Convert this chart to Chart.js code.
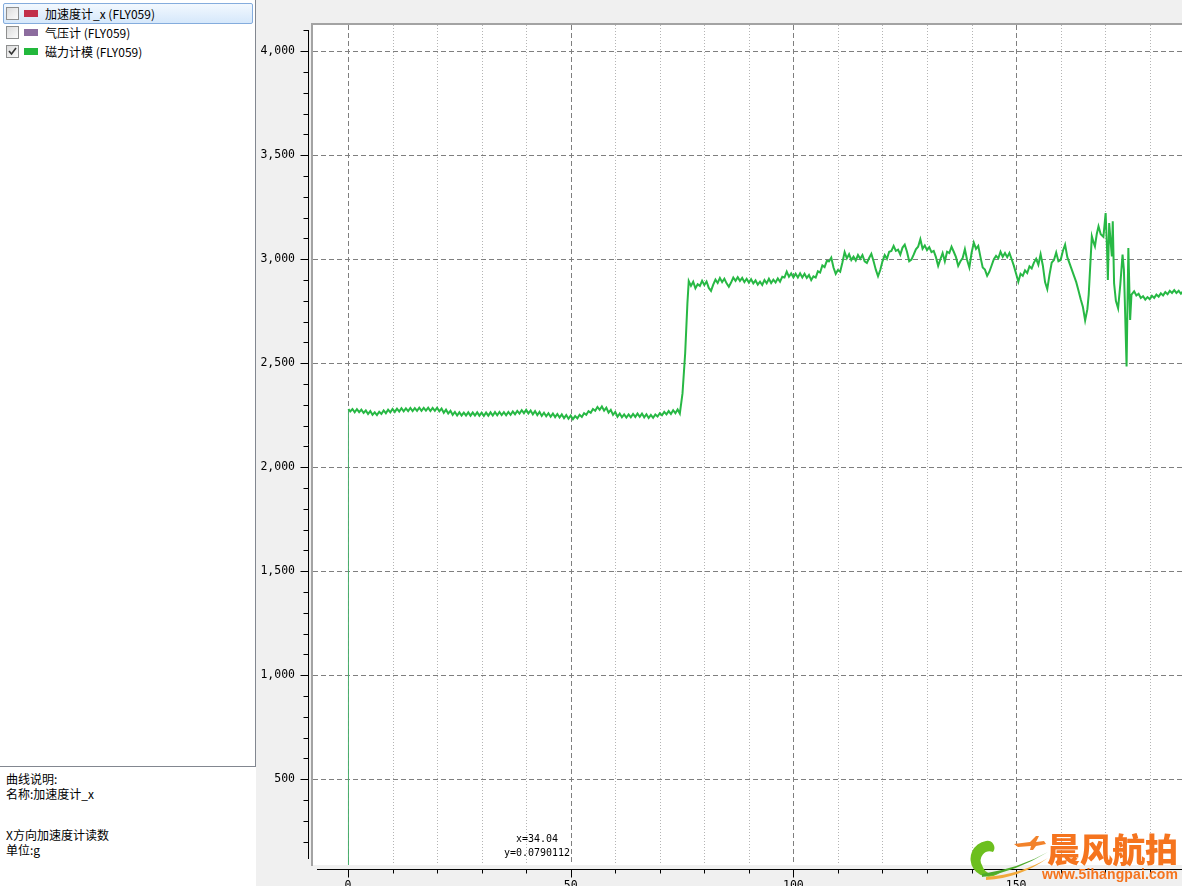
<!DOCTYPE html>
<html>
<head>
<meta charset="utf-8">
<title>磁力计模 (FLY059)</title>
<script src="https://cdn.jsdelivr.net/npm/chart.js@4.4.1/dist/chart.umd.min.js"></script>
<style>
html, body { margin: 0; padding: 0; }
body { width: 1182px; height: 886px; overflow: hidden; background: #f0f0f0; position: relative;
       font-family: "Noto Sans CJK SC", "Noto Sans", sans-serif; }
#side { position: absolute; left: 0; top: 0; width: 256px; height: 886px; background: #fff; }
#list { position: absolute; left: 0; top: 0; width: 255px; height: 766px;
        border-right: 1px solid #828790; border-bottom: 1px solid #828790; }
#sel { position: absolute; left: 3px; top: 3px; width: 248px; height: 19px; border: 1px solid #84acdd;
       border-radius: 2px; background: linear-gradient(#f2f8fe, #d6e8fb); }
.item { position: absolute; left: 3px; width: 250px; height: 19px; font-size: 12px; line-height: 19px; color: #000; }
.cb { position: absolute; left: 3px; top: 3px; width: 11px; height: 11px; border: 1px solid #8e8f8f;
      background: linear-gradient(135deg, #dcdcdc, #fbfbfb); }
.cb svg { position: absolute; left: 0; top: 0; }
.sw { position: absolute; left: 21px; top: 6px; width: 14px; height: 7px; }
.lbl { position: absolute; left: 42px; top: 0; white-space: nowrap; }
.desc { position: absolute; left: 6px; font-size: 12px; line-height: 15px; color: #000; white-space: nowrap; }
#plot { position: absolute; left: 256px; top: 0; }
#marker { position: absolute; left: 487px; top: 832px; width: 100px; text-align: center;
          font-family: "DejaVu Sans Mono", monospace; font-size: 10px; line-height: 14px; color: #000; }
#logo { position: absolute; left: 960px; top: 828px; }
</style>
</head>
<body>
<div id="side">
  <div id="list"><div id="sel"></div></div>
  <div class="desc" style="top:771px">曲线说明:<br>名称:加速度计_x</div>
  <div class="desc" style="top:827px">X方向加速度计读数<br>单位:g</div>
</div>
<canvas id="plot" width="974" height="900"></canvas>
<div id="marker">x=34.04<br>y=0.0790112</div>
<svg id="logo" width="222" height="58" viewBox="0 0 222 58">
  <path d="M26 13 A18 18 0 1 0 44 40 A12 12 0 0 1 22 37 A9 9 0 0 1 33 24 A7 7 0 0 0 26 13 Z" fill="#6cbf1e"/>
  <path d="M22 49 Q55 44 88 24 Q60 40 22 46 Z" fill="#4daa2a"/>
  <path d="M26 52 Q60 50 88 30 Q62 46 26 49 Z" fill="#f2a93b"/>
  <path d="M54 16 L70 14 L76 8 L79 8 L76 14 L84 13 L86 16 L76 18 L73 22 L70 22 L71 18 L58 19 Z" fill="#f2822a"/>
  <text x="87" y="34" font-family="Noto Sans CJK SC" font-weight="900" font-size="33" fill="#f5741e" textLength="131">晨风航拍</text>
  <text x="82" y="51" font-family="Liberation Sans, sans-serif" font-weight="bold" font-size="14" fill="#f5741e" textLength="136">www.5ihangpai.com</text>
</svg>
<script>
// legend entries of the curve list
const seriesNames = ['加速度计_x (FLY059)', '气压计 (FLY059)', '磁力计模 (FLY059)'];
const seriesColors = ['#c2304b', '#8c6c9e', '#22b83c'];
const seriesChecked = [false, false, true];

// tick labels
const xTickValues = [0, 50, 100, 150];
const yTickValues = [500, 1000, 1500, 2000, 2500, 3000, 3500, 4000];
const xMinorStep = 10;
const yMinorStep = 100;

// 磁力计模 (FLY059): time and magnitude
const timeSec = [
    0, 0.1, 0.5, 1, 1.5, 2, 2.5, 3, 3.5, 4,
    4.5, 5, 5.5, 6, 6.5, 7, 7.5, 8, 8.5, 9,
    9.5, 10, 10.5, 11, 11.5, 12, 12.5, 13, 13.5, 14,
    14.5, 15, 15.5, 16, 16.5, 17, 17.5, 18, 18.5, 19,
    19.5, 20, 20.5, 21, 21.5, 22, 22.5, 23, 23.5, 24,
    24.5, 25, 25.5, 26, 26.5, 27, 27.5, 28, 28.5, 29,
    29.5, 30, 30.5, 31, 31.5, 32, 32.5, 33, 33.5, 34,
    34.5, 35, 35.5, 36, 36.5, 37, 37.5, 38, 38.5, 39,
    39.5, 40, 40.5, 41, 41.5, 42, 42.5, 43, 43.5, 44,
    44.5, 45, 45.5, 46, 46.5, 47, 47.5, 48, 48.5, 49,
    49.5, 50, 50.5, 51, 51.5, 52, 52.5, 53, 53.5, 54,
    54.5, 55, 55.5, 56, 56.5, 57, 57.5, 58, 58.5, 59,
    59.5, 60, 60.5, 61, 61.5, 62, 62.5, 63, 63.5, 64,
    64.5, 65, 65.5, 66, 66.5, 67, 67.5, 68, 68.5, 69,
    69.5, 70, 70.5, 71, 71.5, 72, 72.5, 73, 73.5, 74,
    74.5, 75.1, 75.7, 76.2, 76.5, 77, 77.5, 78, 78.5, 79,
    79.5, 80, 80.5, 81, 81.5, 82, 82.5, 83, 83.5, 84,
    84.5, 85, 85.5, 86, 86.5, 87, 87.5, 88, 88.5, 89,
    89.5, 90, 90.5, 91, 91.5, 92, 92.5, 93, 93.5, 94,
    94.5, 95, 95.5, 96, 96.5, 97, 97.5, 98, 98.5, 99,
    99.5, 100, 100.5, 101, 101.5, 102, 102.5, 103, 103.5, 104,
    104.5, 105, 105.5, 106, 106.5, 107, 107.5, 108, 108.5, 109,
    109.5, 110, 110.5, 111, 111.5, 112, 112.5, 113, 113.5, 114,
    114.5, 115, 115.5, 116, 116.5, 117, 117.5, 118, 118.5, 119,
    119.5, 120, 120.5, 121, 121.5, 122, 122.5, 123, 123.5, 124,
    124.5, 125, 125.5, 126, 126.5, 127, 127.5, 128, 128.5, 129,
    129.5, 130, 130.5, 131, 131.5, 132, 132.5, 133, 133.5, 134,
    134.5, 135, 135.5, 136, 136.5, 137, 137.5, 138, 138.5, 139,
    139.5, 140, 140.5, 141, 141.5, 142, 142.5, 143, 143.5, 144,
    144.5, 145, 145.5, 146, 146.5, 147, 147.5, 148, 148.5, 149,
    149.5, 150, 150.5, 151, 151.5, 152, 152.5, 153, 153.5, 154,
    154.5, 155, 155.5, 156, 156.5, 157, 157.5, 158, 158.5, 159,
    159.5, 160, 160.5, 161, 161.5, 162, 162.5, 163, 163.5, 164,
    164.5, 165, 165.5, 166, 166.3, 166.6, 167, 167.4, 167.7, 168.1,
    168.5, 169, 169.6, 170.1, 170.4, 170.6, 170.9, 171.2, 171.5, 171.7,
    172, 172.4, 172.9, 173.4, 173.9, 174.2, 174.4, 174.8, 175.2, 175.6,
    175.9, 176.5, 177, 177.5, 178, 178.5, 179, 179.5, 180, 180.5,
    181, 181.5, 182, 182.5, 183, 183.5, 184, 184.5, 185, 185.5,
    186, 186.5, 187, 187.5, 188
];
const magNorm = [
    80, 2280, 2268, 2280, 2264, 2279, 2265, 2277, 2261, 2273,
    2256, 2270, 2252, 2264, 2251, 2267, 2256, 2273, 2260, 2277,
    2264, 2280, 2266, 2282, 2268, 2284, 2269, 2283, 2270, 2285,
    2270, 2284, 2271, 2286, 2271, 2285, 2272, 2286, 2270, 2285,
    2271, 2286, 2269, 2282, 2262, 2277, 2258, 2271, 2252, 2266,
    2249, 2264, 2249, 2263, 2249, 2264, 2248, 2263, 2249, 2264,
    2248, 2262, 2247, 2263, 2248, 2264, 2249, 2265, 2250, 2266,
    2251, 2265, 2250, 2266, 2252, 2268, 2255, 2271, 2258, 2274,
    2260, 2276, 2259, 2273, 2254, 2270, 2251, 2266, 2247, 2262,
    2245, 2260, 2243, 2258, 2241, 2256, 2239, 2254, 2236, 2251,
    2233, 2248, 2231, 2246, 2235, 2252, 2242, 2260, 2252, 2270,
    2262, 2280, 2272, 2290, 2276, 2292, 2272, 2286, 2263, 2276,
    2252, 2266, 2243, 2258, 2240, 2254, 2239, 2254, 2240, 2256,
    2242, 2258, 2243, 2258, 2240, 2255, 2237, 2252, 2238, 2254,
    2244, 2260, 2250, 2266, 2254, 2270, 2256, 2274, 2260, 2278,
    2258, 2355, 2548, 2788, 2895, 2872, 2892, 2860, 2880, 2872,
    2896, 2876, 2893, 2862, 2848, 2878, 2902, 2886, 2910, 2890,
    2906, 2884, 2868, 2888, 2912, 2896, 2914, 2896, 2910, 2890,
    2906, 2888, 2904, 2884, 2898, 2878, 2892, 2876, 2900, 2884,
    2906, 2886, 2902, 2888, 2908, 2892, 2916, 2912, 2940, 2916,
    2932, 2912, 2930, 2912, 2932, 2912, 2930, 2910, 2924, 2900,
    2918, 2912, 2942, 2936, 2970, 2962, 2992, 2990, 3008, 2960,
    2930, 2948, 2940, 2984, 3034, 3004, 3024, 2996, 3012, 2994,
    3020, 3002, 3020, 2990, 2982, 3006, 3026, 2990, 2950, 2918,
    2948, 2990, 3020, 3002, 3036, 3040, 3064, 3040, 3046, 3022,
    3056, 3070, 3036, 2990, 2998, 3022, 3048, 3060, 3096, 3050,
    3066, 3044, 3058, 3034, 3040, 3010, 2968, 3000, 3030, 2990,
    3036, 3030, 3060, 3036, 3010, 2968, 2990, 3006, 3048, 2996,
    2960, 3030, 3080, 3050, 3064, 3010, 2960, 2950, 2920, 2940,
    2970, 3000, 3016, 3004, 3036, 3012, 3030, 3010, 3030, 3000,
    2968, 2930, 2892, 2930, 2920, 2946, 2934, 2966, 2956, 2984,
    3002, 2974, 3024, 2970, 2890, 2856, 2926, 2984, 2996, 3032,
    2990, 2996, 3040, 3070, 3010, 2980, 2950, 2920, 2890, 2850,
    2808, 2770, 2706, 2760, 2830, 2950, 3110, 3080, 3062, 3120,
    3158, 3120, 3108, 3222, 3060, 2900, 3174, 3090, 3014, 3182,
    2884, 2800, 2764, 2880, 3022, 2950, 2804, 2484, 3054, 2708,
    2830, 2846, 2826, 2834, 2814, 2822, 2806, 2818, 2808, 2824,
    2814, 2830, 2820, 2836, 2826, 2842, 2832, 2848, 2838, 2852,
    2838, 2848, 2834, 2846, 2836
];

// curve list on the left
const list = document.getElementById('list');
seriesNames.forEach((name, i) => {
    const row = document.createElement('div');
    row.className = 'item';
    row.style.top = (4 + 19 * i) + 'px';
    const tick = seriesChecked[i]
        ? '<svg width="11" height="11"><polyline points="2,5 4.5,8 9,2" fill="none" stroke="#333" stroke-width="1.6"/></svg>'
        : '';
    row.innerHTML = '<span class="cb">' + tick + '</span>' +
        '<span class="sw" style="background:' + seriesColors[i] + '"></span>' +
        '<span class="lbl">' + name + '</span>';
    list.appendChild(row);
});

// grid, frame and detached axis backbones in the Qwt style
const plotFrame = {
    id: 'plotFrame',
    beforeDraw(chart) {
        const { ctx, chartArea: a } = chart;
        ctx.save();
        ctx.fillStyle = '#fff';
        ctx.fillRect(a.left, a.top, a.right - a.left, a.bottom - a.top);
        ctx.restore();
    },
    beforeDatasetsDraw(chart) {
        const { ctx, chartArea: a, scales: { x, y } } = chart;
        const hline = (p) => { ctx.beginPath(); ctx.moveTo(a.left, p); ctx.lineTo(a.right, p); ctx.stroke(); };
        const vline = (p) => { ctx.beginPath(); ctx.moveTo(p, a.top); ctx.lineTo(p, a.bottom); ctx.stroke(); };
        ctx.save();
        ctx.lineWidth = 1;

        // minor vertical dotted lines
        ctx.strokeStyle = '#b4b4b4';
        ctx.setLineDash([1, 2]);
        for (let v = xMinorStep; v < x.max; v += xMinorStep) {
            if (xTickValues.includes(v)) continue;
            vline(Math.round(x.getPixelForValue(v)) + 0.5);
        }

        // major dashed lines
        ctx.strokeStyle = '#7f7f7f';
        ctx.setLineDash([5, 3]);
        xTickValues.forEach(v => vline(Math.round(x.getPixelForValue(v)) + 0.5));
        yTickValues.forEach(v => hline(Math.round(y.getPixelForValue(v)) + 0.5));
        ctx.restore();
    },
    afterDatasetsDraw(chart) {
        const { ctx, chartArea: a, scales: { x, y } } = chart;
        ctx.save();

        // gray canvas frame (top and left)
        ctx.fillStyle = '#a3a3a3';
        ctx.fillRect(a.left - 2, a.top - 2, a.right - a.left + 2, 2);
        ctx.fillRect(a.left - 2, a.top - 2, 2, a.bottom - a.top + 3);

        ctx.strokeStyle = '#000';
        ctx.lineWidth = 1;

        // y backbone and ticks
        const yb = a.left - 4.5;
        const yTop = a.top + 5, yBot = a.bottom - 6;
        ctx.beginPath();
        ctx.moveTo(yb, yTop); ctx.lineTo(yb, yBot);
        for (let v = yMinorStep; v <= y.max; v += yMinorStep) {
            const p = Math.round(y.getPixelForValue(v)) + 0.5;
            if (p < yTop || p > yBot) continue;
            const len = yTickValues.includes(v) ? 8 : 5;
            ctx.moveTo(yb, p); ctx.lineTo(yb - len, p);
        }
        ctx.stroke();

        // x backbone and ticks
        const xb = a.bottom + 4.5;
        const xLeft = a.left + 4;
        ctx.beginPath();
        ctx.moveTo(xLeft, xb); ctx.lineTo(a.right, xb);
        for (let v = 0; v <= x.max; v += xMinorStep) {
            const p = Math.round(x.getPixelForValue(v)) + 0.5;
            const len = xTickValues.includes(v) ? 8 : 4;
            ctx.moveTo(p, xb); ctx.lineTo(p, xb + len);
        }
        ctx.stroke();
        ctx.restore();
    }
};

const tickFont = { family: '"DejaVu Sans Mono", monospace', size: 11.5 };

new Chart(document.getElementById('plot'), {
    type: 'line',
    data: {
        datasets: [{
            label: seriesNames[2],
            data: timeSec.map((t, i) => ({ x: t, y: magNorm[i] })),
            borderColor: '#27b844',
            borderWidth: 2,
            pointRadius: 0,
            tension: 0,
            fill: false,
            segment: {
                // the first sample rises from the floor as a thin stroke
                borderWidth: ctx => ctx.p0DataIndex === 0 ? 1 : undefined,
                borderColor: ctx => ctx.p0DataIndex === 0 ? '#4aae6c' : undefined
            }
        }]
    },
    options: {
        responsive: false,
        animation: false,
        devicePixelRatio: 1,
        layout: { padding: { top: 25, right: 5, left: 0, bottom: 0 } },
        plugins: {
            legend: { display: false },
            tooltip: { enabled: false }
        },
        scales: {
            x: {
                type: 'linear',
                min: -7.86,
                max: 196.9,
                grid: { display: false, drawTicks: false },
                border: { display: false },
                afterBuildTicks: (scale) => { scale.ticks = xTickValues.map(v => ({ value: v })); },
                afterFit: (scale) => { scale.height = 35; },
                ticks: {
                    autoSkip: false,
                    maxRotation: 0,
                    padding: 14,
                    color: '#000',
                    font: tickFont,
                    callback: (v) => String(v)
                }
            },
            y: {
                type: 'linear',
                min: 88,
                max: 4126,
                grid: { display: false, drawTicks: false },
                border: { display: false },
                afterBuildTicks: (scale) => { scale.ticks = yTickValues.map(v => ({ value: v })); },
                afterFit: (scale) => { scale.width = 57; },
                ticks: {
                    autoSkip: false,
                    padding: 18,
                    color: '#000',
                    font: tickFont,
                    callback: (v) => v.toLocaleString('en-US')
                }
            }
        }
    },
    plugins: [plotFrame]
});
</script>
</body>
</html>
